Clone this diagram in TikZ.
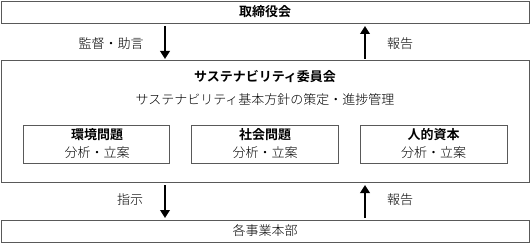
\documentclass[tikz,border=0pt]{standalone}
\usepackage{fontspec}
\setmainfont{Noto Sans CJK JP}[BoldFont={* Bold}]
\newfontfamily\jpreg{Noto Sans CJK JP Light}
\usetikzlibrary{arrows.meta}
\tikzset{
  frame/.style={draw=black!65, line width=0.9pt, fill=white},
  inbox/.style={draw=black!65, line width=0.9pt, fill=white},
  flow/.style={line width=2.8pt, -{Triangle[width=9.5pt,length=8pt]}},
  lbl/.style={font=\fontsize{13}{15}\selectfont\jpreg, inner sep=0pt},
  ttl/.style={font=\fontsize{13}{15}\selectfont\bfseries, inner sep=0pt},
}
\begin{document}
\begin{tikzpicture}[x=1pt,y=-1pt]
\useasboundingbox (0,0) rectangle (530,243);
% boxes
\draw[frame] (1,1) rectangle (529,23);
\node[ttl] (board) at (265,12) {取締役会};
\draw[frame] (1,60) rectangle (529,182);
\node[ttl] (comm) at (265,76.5) {サステナビリティ委員会};
\node[lbl] (commsub) at (265,100) {サステナビリティ基本方針の策定・進捗管理};
\draw[frame] (1,220) rectangle (529,242);
\node[lbl] (div) at (265,231) {各事業本部};
% inner boxes
\draw[inbox] (23,125) rectangle (169,163);
\node[ttl] (e1) at (97,134.5) {環境問題};
\node[lbl] (e2) at (97,152.5) {分析・立案};
\draw[inbox] (191,125) rectangle (338,163);
\node[ttl] (s1) at (265,134.5) {社会問題};
\node[lbl] (s2) at (265,152.5) {分析・立案};
\draw[inbox] (360,125) rectangle (507,163);
\node[ttl] (h1) at (433.5,134.5) {人的資本};
\node[lbl] (h2) at (433.5,152.5) {分析・立案};
% arrows
\coordinate (a1s) at (165,26);
\coordinate (a1e) at (165,59);
\draw[flow] (a1s) -- (a1e);
\node[lbl] (l1) at (111,44) {監督・助言};
\coordinate (a2s) at (365,59);
\coordinate (a2e) at (365,26);
\draw[flow] (a2s) -- (a2e);
\node[lbl] (l2) at (400,44) {報告};
\coordinate (a3s) at (165,185);
\coordinate (a3e) at (165,218);
\draw[flow] (a3s) -- (a3e);
\node[lbl] (l3) at (130,200) {指示};
\coordinate (a4s) at (365,218);
\coordinate (a4e) at (365,185);
\draw[flow] (a4s) -- (a4e);
\node[lbl] (l4) at (400,200) {報告};
\end{tikzpicture}
\end{document}
